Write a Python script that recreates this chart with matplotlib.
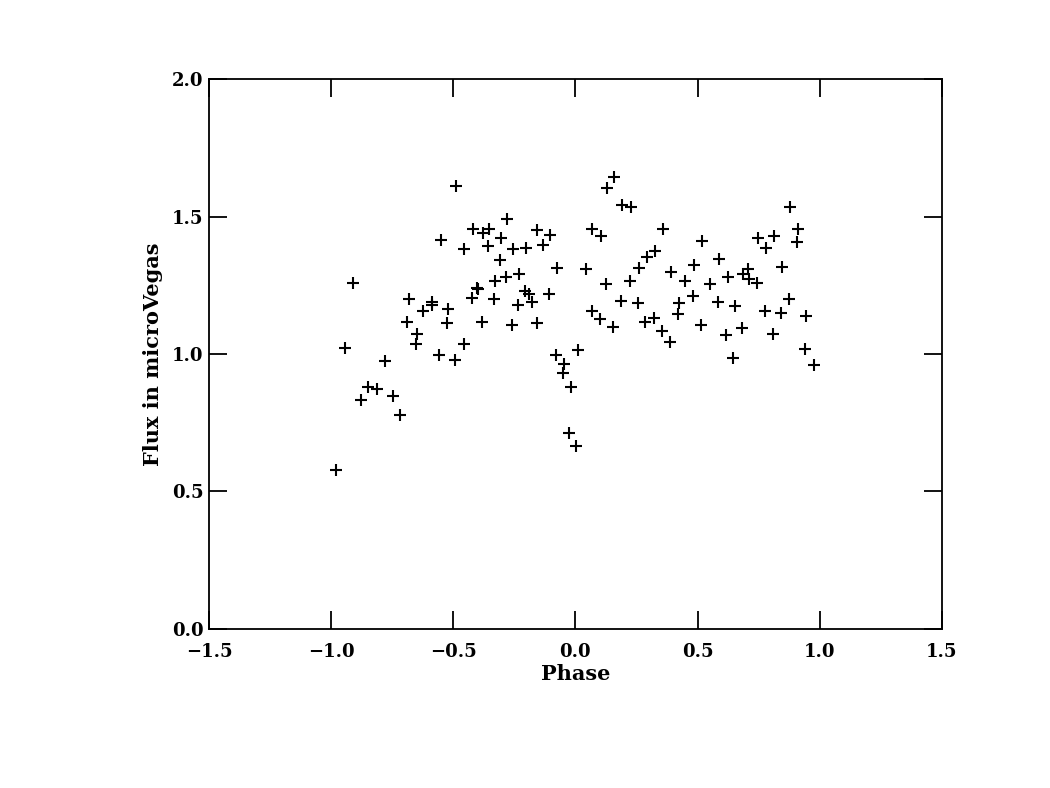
import matplotlib
matplotlib.use("Agg")
import matplotlib.pyplot as plt

phase = [
    -0.978, -0.942, -0.910, -0.879, -0.848, -0.811, -0.781, -0.748, -0.717,
    -0.682, -0.688, -0.650, -0.654, -0.623, -0.585, -0.587, -0.552, -0.559,
    -0.521, -0.525, -0.489, -0.492, -0.455, -0.456, -0.421, -0.425, -0.404,
    -0.400, -0.380, -0.353, -0.381, -0.357, -0.334, -0.305, -0.309, -0.278,
    -0.328, -0.284, -0.231, -0.257, -0.259, -0.235, -0.208, -0.189, -0.179,
    -0.204, -0.156, -0.159, -0.132, -0.108, -0.104, -0.075, -0.080, -0.047,
    -0.050, -0.016, -0.025, 0.002, 0.012,
    0.043, 0.066, 0.069, 0.099, 0.103, 0.126, 0.130, 0.155, 0.159, 0.188,
    0.192, 0.223, 0.228, 0.255, 0.260, 0.286, 0.294, 0.323, 0.327, 0.354,
    0.358, 0.387, 0.391, 0.420, 0.425, 0.448, 0.481, 0.485, 0.514, 0.518,
    0.553, 0.582, 0.586, 0.615, 0.623, 0.646, 0.652, 0.680, 0.687, 0.705,
    0.712, 0.742, 0.746, 0.776, 0.781, 0.810, 0.814, 0.841, 0.847, 0.874,
    0.877, 0.907, 0.912, 0.939, 0.944, 0.976,
]
flux = [
    0.579, 1.023, 1.257, 0.834, 0.879, 0.873, 0.974, 0.846, 0.780,
    1.199, 1.116, 1.071, 1.037, 1.156, 1.189, 1.177, 1.415, 0.995,
    1.162, 1.111, 1.611, 0.977, 1.383, 1.037, 1.453, 1.205, 1.239,
    1.235, 1.441, 1.453, 1.118, 1.393, 1.199, 1.423, 1.342, 1.490,
    1.265, 1.281, 1.290, 1.381, 1.107, 1.177, 1.229, 1.219, 1.189,
    1.384, 1.450, 1.114, 1.395, 1.220, 1.432, 1.314, 0.996, 0.962,
    0.931, 0.879, 0.713, 0.664, 1.013,
    1.310, 1.156, 1.454, 1.126, 1.429, 1.253, 1.605, 1.098, 1.642, 1.192,
    1.541, 1.265, 1.533, 1.184, 1.314, 1.117, 1.354, 1.132, 1.375, 1.083,
    1.456, 1.044, 1.298, 1.144, 1.187, 1.265, 1.211, 1.322, 1.105, 1.411,
    1.253, 1.189, 1.344, 1.069, 1.280, 0.984, 1.174, 1.095, 1.290, 1.308,
    1.271, 1.258, 1.423, 1.158, 1.387, 1.071, 1.429, 1.150, 1.316, 1.201,
    1.533, 1.407, 1.456, 1.020, 1.138, 0.959,
]

xticks = [-1.5, -1.0, -0.5, 0.0, 0.5, 1.0, 1.5]
yticks = [0.0, 0.5, 1.0, 1.5, 2.0]

plt.rcParams['font.family'] = ['DejaVu Serif']
plt.rcParams['axes.unicode_minus'] = True

fig = plt.figure(figsize=(10.5, 7.88), dpi=100)
ax = fig.add_axes([0.199, 0.2018, 0.698, 0.6979])
ax.plot(phase, flux, linestyle='none', marker='+', color='black',
        markersize=8, markeredgewidth=1.5)
ax.set_xlim(-1.5, 1.5)
ax.set_ylim(0.0, 2.0)
ax.set_xticks(xticks)
ax.set_yticks(yticks)
ax.set_xticklabels([f"{t:.1f}".replace('-', '\u2212') for t in xticks])
ax.set_yticklabels([f"{t:.1f}" for t in yticks])
ax.tick_params(direction='in', length=13, width=1.3, top=True, right=True,
               labelsize=13)
for lbl in ax.get_xticklabels() + ax.get_yticklabels():
    lbl.set_fontweight('bold')
ax.tick_params(axis='x', pad=10)
ax.tick_params(axis='y', pad=4)
for s in ax.spines.values():
    s.set_linewidth(1.3)
ax.set_xlabel('Phase', fontsize=15, fontweight='bold', labelpad=2)
ax.set_ylabel('Flux in microVegas', fontsize=15, fontweight='bold', labelpad=6)
fig.savefig('out.png', dpi=100)
